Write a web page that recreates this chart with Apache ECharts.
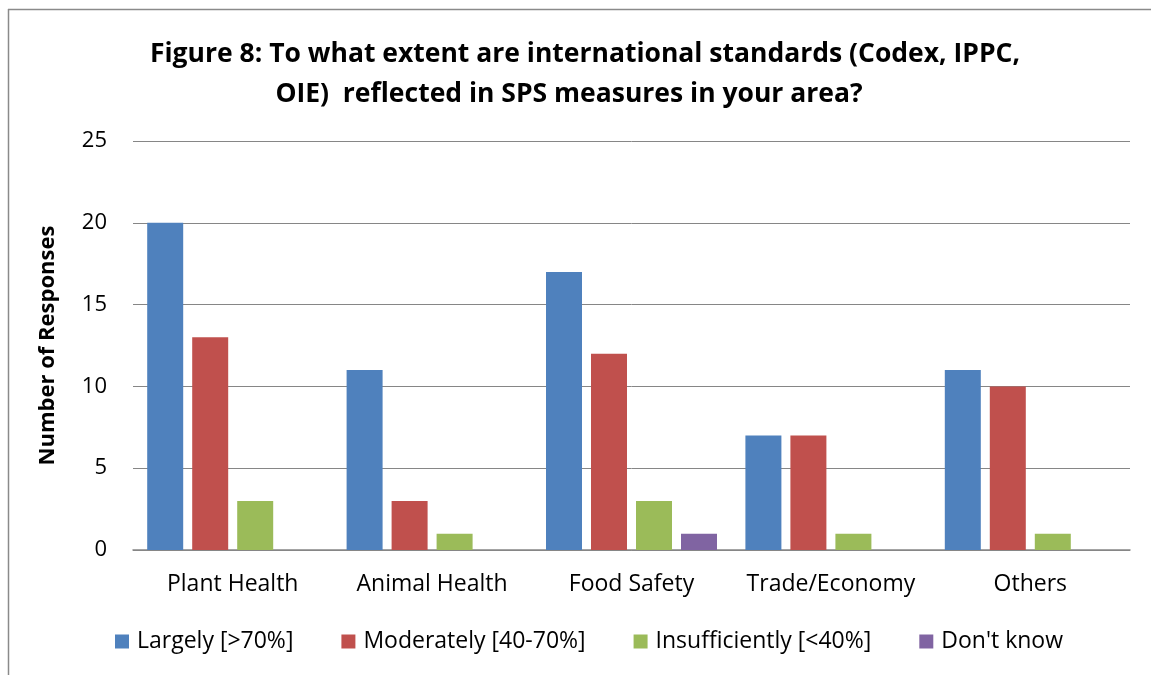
<!DOCTYPE html>
<html>
<head>
<meta charset="utf-8">
<script src="https://cdn.jsdelivr.net/npm/echarts@6/dist/echarts.min.js"></script>
<style>html,body{margin:0;padding:0;background:#fff;}#c{width:1151px;height:675px;}</style>
</head>
<body>
<div id="c"></div>
<script>
var titleLines = ['Figure 8: To what extent are international standards (Codex, IPPC,', 'OIE)  reflected in SPS measures in your area?'];
var categories = ['Plant Health', 'Animal Health', 'Food Safety', 'Trade/Economy', 'Others'];
var seriesNames = ['Largely [>70%]', 'Moderately [40-70%]', 'Insufficiently [<40%]', "Don't know"];
var largely = [20, 11, 17, 7, 11];
var moderately = [13, 3, 12, 7, 10];
var insufficiently = [3, 1, 3, 1, 1];
var dontKnow = [0, 0, 1, 0, 0];
var colors = ['#4F81BD', '#C0504D', '#9BBB59', '#8064A2'];
var FONT = 'Open Sans';

var chart = echarts.init(document.getElementById('c'), null, {renderer: 'canvas'});
var dataSets = [largely, moderately, insufficiently, dontKnow];
var series = dataSets.map(function (d, i) {
  return {
    name: seriesNames[i],
    type: 'bar',
    data: d,
    barWidth: 36,
    barGap: '25%',
    itemStyle: {color: colors[i]}
  };
});
var titleStyle = {fontFamily: FONT, fontWeight: 'bold', fontSize: 26.5, color: '#000', lineHeight: 41};
chart.setOption({
  animation: false,
  color: colors,
  title: [
    {text: titleLines[0], left: 585, top: 34, textAlign: 'center', padding: 0, textStyle: titleStyle},
    {text: titleLines[1], left: 569, top: 74, textAlign: 'center', padding: 0, textStyle: titleStyle}
  ],
  graphic: [
    {type: 'line', shape: {x1: 8.5, y1: 9, x2: 8.5, y2: 675}, style: {stroke: '#8a8a8a', lineWidth: 1.5}},
    {type: 'line', shape: {x1: 8, y1: 9.5, x2: 1151, y2: 9.5}, style: {stroke: '#8a8a8a', lineWidth: 1.5}}
  ],
  legend: {
    left: 115,
    top: 630,
    padding: 0,
    itemWidth: 14,
    itemHeight: 14,
    itemGap: 48,
    icon: 'rect',
    textStyle: {fontFamily: FONT, fontSize: 23, color: '#000', padding: [0, 0, 0, 3]},
    data: seriesNames
  },
  grid: {left: 133, right: 21, top: 141, bottom: 125},
  xAxis: {
    type: 'category',
    data: categories,
    axisLine: {lineStyle: {color: '#868686', width: 1.5}},
    axisTick: {show: false},
    axisLabel: {fontFamily: FONT, fontSize: 23, color: '#000', margin: 23, interval: 0}
  },
  yAxis: {
    type: 'value',
    min: 0,
    max: 25,
    interval: 5,
    name: 'Number of Responses',
    nameLocation: 'middle',
    nameRotate: 90,
    nameGap: 74,
    nameTextStyle: {fontFamily: FONT, fontWeight: 'bold', fontSize: 22, color: '#000'},
    axisLine: {show: false},
    axisTick: {show: false},
    axisLabel: {fontFamily: FONT, fontSize: 22, color: '#000', margin: 26},
    splitLine: {lineStyle: {color: '#868686', width: 1}}
  },
  series: series
});
</script>
</body>
</html>
